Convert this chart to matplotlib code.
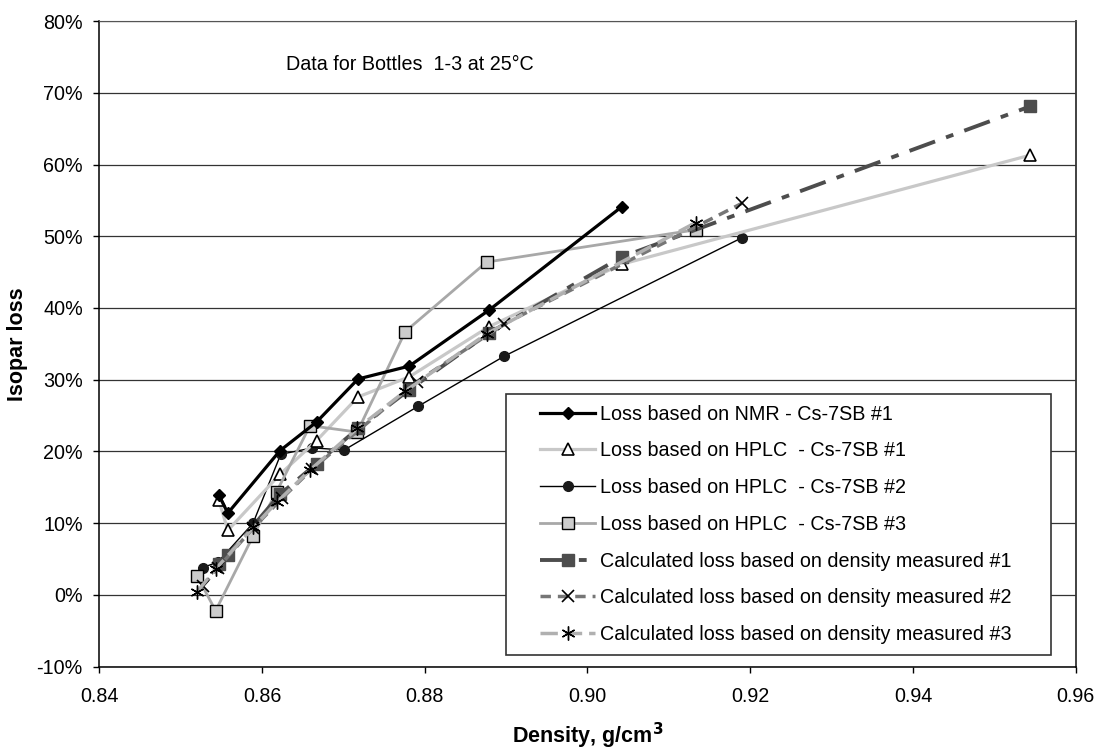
import numpy as np
import matplotlib
matplotlib.use("Agg")
import matplotlib.pyplot as plt
from matplotlib.patches import Rectangle
from matplotlib.ticker import PercentFormatter, MultipleLocator

plt.rcParams["font.family"] = ["Liberation Sans", "DejaVu Sans"]
plt.rcParams["axes.unicode_minus"] = False

# density (g/cm3) and isopar loss (%)
nmr1_x = [0.8547, 0.8558, 0.8622, 0.8667, 0.8718, 0.8781, 0.8879, 0.9042]
nmr1_y = [13.9, 11.4, 20.1, 24.1, 30.1, 31.9, 39.7, 54.1]

hplc1_x = [0.8547, 0.8558, 0.8622, 0.8667, 0.8718, 0.8781, 0.8879, 0.9042, 0.9544]
hplc1_y = [13.2, 9.0, 16.8, 21.5, 27.6, 30.4, 37.4, 46.1, 61.3]

hplc2_x = [0.8527, 0.8546, 0.8589, 0.8623, 0.8662, 0.8701, 0.8792, 0.8898, 0.9190]
hplc2_y = [3.8, 4.6, 10.0, 19.6, 20.5, 20.2, 26.3, 33.3, 49.8]

hplc3_x = [0.8520, 0.8543, 0.8589, 0.8618, 0.8659, 0.8717, 0.8776, 0.8876, 0.9133]
hplc3_y = [2.7, -2.2, 8.2, 14.4, 23.6, 22.7, 36.7, 46.4, 50.9]

calc1_x = [0.8547, 0.8558, 0.8622, 0.8667, 0.8718, 0.8781, 0.8879, 0.9042, 0.9544]
calc1_y = [4.3, 5.5, 14.0, 18.3, 23.2, 28.6, 36.5, 47.1, 68.1]

calc2_x = [0.8527, 0.8546, 0.8589, 0.8625, 0.8662, 0.8790, 0.8898, 0.9190]
calc2_y = [1.2, 3.8, 9.3, 13.5, 17.6, 29.7, 37.8, 54.6]

calc3_x = [0.8520, 0.8543, 0.8589, 0.8618, 0.8659, 0.8717, 0.8776, 0.8876, 0.9133]
calc3_y = [0.4, 3.6, 9.4, 12.9, 17.4, 23.2, 28.4, 36.4, 51.9]

asterisk = (6, 2, 0)
FS = 14.2

fig = plt.figure(figsize=(10.98, 7.51), dpi=100)
ax = fig.add_axes([0.0904, 0.1123, 0.8893, 0.8597])

ax.plot(hplc2_x, hplc2_y, color="black", lw=1.0, marker="o", ms=7,
        mfc="#1a1a1a", mec="#1a1a1a", zorder=3,
        label="Loss based on HPLC  - Cs-7SB #2")
ax.plot(hplc1_x, hplc1_y, color="#c8c8c8", lw=2.3, marker="^", ms=9,
        mfc="white", mec="black", mew=1.2, zorder=3,
        label="Loss based on HPLC  - Cs-7SB #1")
ax.plot(hplc3_x, hplc3_y, color="#a8a8a8", lw=2.0, marker="s", ms=8,
        mfc="#cccccc", mec="black", mew=1.0, zorder=3,
        label="Loss based on HPLC  - Cs-7SB #3")
ax.plot(calc1_x, calc1_y, color="#4d4d4d", lw=2.8, marker="s", ms=8,
        mfc="#4d4d4d", mec="#4d4d4d", dashes=(7, 3, 2, 3), zorder=3,
        label="Calculated loss based on density measured #1")
ax.plot(calc2_x, calc2_y, color="#767676", lw=2.5, marker="x", ms=9,
        mec="black", mew=1.2, dashes=(3, 2), zorder=3,
        label="Calculated loss based on density measured #2")
ax.plot(calc3_x, calc3_y, color="#b0b0b0", lw=2.5, marker=asterisk, ms=10,
        mec="black", mew=1.0, dashes=(5, 2), zorder=3,
        label="Calculated loss based on density measured #3")
ax.plot(nmr1_x, nmr1_y, color="black", lw=2.3, marker="D", ms=6.5,
        mfc="black", mec="black", zorder=4,
        label="Loss based on NMR - Cs-7SB #1")

ax.set_xlim(0.84, 0.96)
ax.set_ylim(-10, 80)
ax.xaxis.set_major_locator(MultipleLocator(0.02))
ax.yaxis.set_major_locator(MultipleLocator(10))
ax.yaxis.set_major_formatter(PercentFormatter(100, decimals=0))
ax.set_xticklabels([f"{v:.2f}" for v in ax.get_xticks()])
ax.tick_params(direction="out", length=4.3, width=1, labelsize=FS)
ax.tick_params(axis="y", pad=7.5)
ax.tick_params(axis="x", pad=10)
ax.grid(axis="y", color="#333333", lw=0.9, zorder=1)

for side in ["left", "bottom"]:
    ax.spines[side].set_color("black")
    ax.spines[side].set_linewidth(1.1)
ax.spines["top"].set_color("#555555")
ax.spines["right"].set_color("#333333")
ax.spines["right"].set_linewidth(1.3)

ax.set_xlabel("Density, g/cm$^\\mathbf{3}$", fontsize=15.5, fontweight="bold", labelpad=11)
ax.set_ylabel("Isopar loss", fontsize=15.5, fontweight="bold", labelpad=6)

ax.text(0.8630, 74.0, "Data for Bottles  1-3 at 25\u00b0C", fontsize=FS,
        ha="left", va="center")

# legend box
ax.add_patch(Rectangle((0.4162, 0.0181), 0.5585, 0.4037, transform=ax.transAxes,
                       facecolor="white", edgecolor="#333333", lw=1.2, zorder=5))
handles, labels = ax.get_legend_handles_labels()
order = [6, 1, 0, 2, 3, 4, 5]
leg = ax.legend([handles[i] for i in order], [labels[i] for i in order],
                loc="center left", bbox_to_anchor=(0.4514, 0.2205),
                frameon=False, fontsize=FS, handlelength=2.8,
                handletextpad=0.25, labelspacing=0.9, borderpad=0,
                borderaxespad=0)
leg.set_zorder(6)

plt.savefig("out.png", dpi=100)
plt.close()
